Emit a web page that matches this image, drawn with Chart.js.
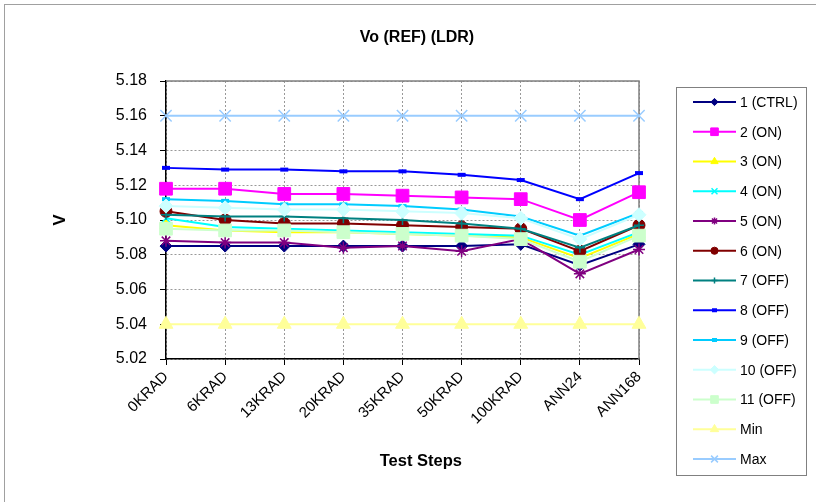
<!DOCTYPE html>
<html>
<head>
<meta charset="utf-8">
<title>Vo (REF) (LDR)</title>
<script src="https://cdn.jsdelivr.net/npm/chart.js@4.4.1/dist/chart.umd.min.js"></script>
<style>
    body { margin: 0; background: #ffffff; }
    canvas { display: block; }
</style>
</head>
<body>
<canvas id="chart" width="816" height="502"></canvas>
<script>
let steps = ["0KRAD", "6KRAD", "13KRAD", "20KRAD", "35KRAD", "50KRAD", "100KRAD", "ANN24", "ANN168"];

let s1 = [5.085, 5.085, 5.085, 5.085, 5.085, 5.085, 5.086, 5.074, 5.086];
let s2 = [5.118, 5.118, 5.115, 5.115, 5.114, 5.113, 5.112, 5.100, 5.116];
let s3 = [5.097, 5.094, 5.093, 5.093, 5.092, 5.091, 5.090, 5.078, 5.092];
let s4 = [5.101, 5.096, 5.095, 5.094, 5.093, 5.092, 5.091, 5.080, 5.093];
let s5 = [5.088, 5.087, 5.087, 5.084, 5.085, 5.082, 5.089, 5.069, 5.083];
let s6 = [5.105, 5.100, 5.098, 5.098, 5.097, 5.096, 5.095, 5.082, 5.097];
let s7 = [5.103, 5.102, 5.102, 5.101, 5.100, 5.098, 5.095, 5.084, 5.097];
let s8 = [5.130, 5.129, 5.129, 5.128, 5.128, 5.126, 5.123, 5.112, 5.127];
let s9 = [5.112, 5.111, 5.109, 5.109, 5.108, 5.106, 5.102, 5.091, 5.104];
let s10 = [5.108, 5.107, 5.106, 5.106, 5.105, 5.104, 5.101, 5.089, 5.103];
let s11 = [5.095, 5.094, 5.094, 5.093, 5.092, 5.091, 5.089, 5.076, 5.091];
let minLimit = [5.04, 5.04, 5.04, 5.04, 5.04, 5.04, 5.04, 5.04, 5.04];
let maxLimit = [5.16, 5.16, 5.16, 5.16, 5.16, 5.16, 5.16, 5.16, 5.16];

let yMin = 5.02;
let yMax = 5.18;
let yStep = 0.02;

const FONT = "'Liberation Sans', Arial, sans-serif";

function series(label, data, color, style, radius, pointWidth) {
    return {
        label,
        data,
        borderColor: color,
        backgroundColor: color,
        borderWidth: 2,
        pointStyle: style,
        pointRadius: radius,
        pointHoverRadius: radius,
        pointBorderWidth: pointWidth || 1,
        pointBackgroundColor: color,
        pointBorderColor: color,
        tension: 0
    };
}

let datasets = [
    series("1 (CTRL)", s1, "#000080", "rectRot", 6),
    series("2 (ON)", s2, "#FF00FF", "rect", 9),
    series("3 (ON)", s3, "#FFFF00", "triangle", 7),
    series("4 (ON)", s4, "#00FFFF", "crossRot", 7, 1.5),
    series("5 (ON)", s5, "#800080", "star", 6, 1.5),
    series("6 (ON)", s6, "#800000", "circle", 6),
    series("7 (OFF)", s7, "#008080", "cross", 5, 1.5),
    series("8 (OFF)", s8, "#0000FF", "line", 4, 4),
    series("9 (OFF)", s9, "#00CCFF", "line", 4, 4),
    series("10 (OFF)", s10, "#CCFFFF", "rectRot", 7),
    series("11 (OFF)", s11, "#CCFFCC", "rect", 9),
    series("Min", minLimit, "#FFFF99", "triangle", 8),
    series("Max", maxLimit, "#99CCFF", "crossRot", 8, 1.5)
];

// later series on top, like the original
datasets.forEach((ds, i) => { ds.order = datasets.length - i; });

let framePlugin = {
    id: "frame",
    beforeDraw(chart) {
        let ctx = chart.ctx;
        ctx.save();
        ctx.strokeStyle = "#a0a0a0";
        ctx.lineWidth = 1;
        ctx.strokeRect(4.5, 4.5, 840, 520);
        ctx.restore();
    },
    beforeDatasetsDraw(chart) {
        let a = chart.chartArea;
        let ctx = chart.ctx;
        ctx.save();
        ctx.strokeStyle = "#808080";
        ctx.lineWidth = 1.5;
        ctx.beginPath();
        ctx.moveTo(a.left, a.top);
        ctx.lineTo(a.right, a.top);
        ctx.lineTo(a.right, a.bottom);
        ctx.stroke();
        ctx.restore();
    }
};

let legendPlugin = {
    id: "boxLegend",
    afterDraw(chart) {
        let ctx = chart.ctx;
        let left = 676, top = 87, right = 806, bottom = 475;
        ctx.save();
        ctx.fillStyle = "#ffffff";
        ctx.fillRect(left, top, right - left, bottom - top);
        ctx.strokeStyle = "#808080";
        ctx.lineWidth = 1;
        ctx.strokeRect(left + 0.5, top + 0.5, right - left, bottom - top);

        chart.data.datasets.forEach((ds, i) => {
            let y = 102 + i * 29.75;
            ctx.strokeStyle = ds.borderColor;
            ctx.fillStyle = ds.borderColor;
            ctx.lineWidth = 2;
            ctx.beginPath();
            ctx.moveTo(693, y);
            ctx.lineTo(736, y);
            ctx.stroke();

            ctx.lineWidth = ds.pointStyle === "line" ? 4 : ds.pointBorderWidth;
            let r = ds.pointStyle === "line" ? 2.5 : ds.pointRadius * 0.6;
            Chart.helpers.drawPoint(ctx, {
                pointStyle: ds.pointStyle,
                rotation: 0,
                radius: r,
                borderWidth: ctx.lineWidth
            }, 714.5, y);

            ctx.fillStyle = "#000000";
            ctx.font = "14px " + FONT;
            ctx.textAlign = "left";
            ctx.textBaseline = "middle";
            ctx.fillText(ds.label, 740, y + 1);
        });
        ctx.restore();
    }
};

new Chart(document.getElementById("chart"), {
    type: "line",
    data: { labels: steps, datasets },
    plugins: [framePlugin, legendPlugin],
    options: {
        responsive: false,
        animation: false,
        events: [],
        layout: { padding: { left: 18, right: 0, top: 0, bottom: 0 } },
        plugins: {
            legend: { display: false },
            tooltip: { enabled: false },
            title: {
                display: true,
                text: "Vo (REF) (LDR)",
                color: "#000000",
                font: { family: FONT, size: 16, weight: "bold", lineHeight: 1.2 },
                padding: { top: 28, bottom: 33.8 }
            }
        },
        scales: {
            x: {
                type: "category",
                offset: false,
                afterFit(scale) { scale.height = 143; },
                grid: {
                    color: "#999999",
                    lineWidth: 1,
                    offset: false,
                    tickLength: 6,
                    tickColor: "#000000",
                    tickBorderDash: []
                },
                border: { color: "#000000", width: 1.5, dash: [2, 2] },
                ticks: {
                    color: "#000000",
                    font: { family: FONT, size: 15 },
                    autoSkip: false,
                    minRotation: 45,
                    maxRotation: 45,
                    padding: 3
                },
                title: {
                    display: true,
                    // leading spaces nudge the title right, as in the original
                    text: "        Test Steps",
                    color: "#000000",
                    font: { family: FONT, size: 16.5, weight: "bold", lineHeight: 1.2 },
                    padding: { top: 0, bottom: 30.6 }
                }
            },
            y: {
                min: yMin,
                max: yMax,
                afterFit(scale) { scale.width = 148; },
                grid: {
                    color: "#999999",
                    lineWidth: 1,
                    tickLength: 6,
                    tickColor: "#000000",
                    tickBorderDash: []
                },
                border: { color: "#000000", width: 1.5, dash: [2, 2] },
                ticks: {
                    stepSize: yStep,
                    color: "#000000",
                    font: { family: FONT, size: 16 },
                    padding: 13,
                    callback: v => v.toFixed(2)
                },
                title: {
                    display: true,
                    text: "V",
                    color: "#000000",
                    font: { family: FONT, size: 16.5, weight: "bold", lineHeight: 1.2 },
                    padding: { top: 32.6, bottom: 0 }
                }
            },
            yLegendSpace: {
                position: "right",
                min: yMin,
                max: yMax,
                afterFit(scale) { scale.width = 177; },
                grid: { display: false, drawTicks: false },
                border: { display: false },
                ticks: { display: false }
            }
        }
    }
});
</script>
</body>
</html>
